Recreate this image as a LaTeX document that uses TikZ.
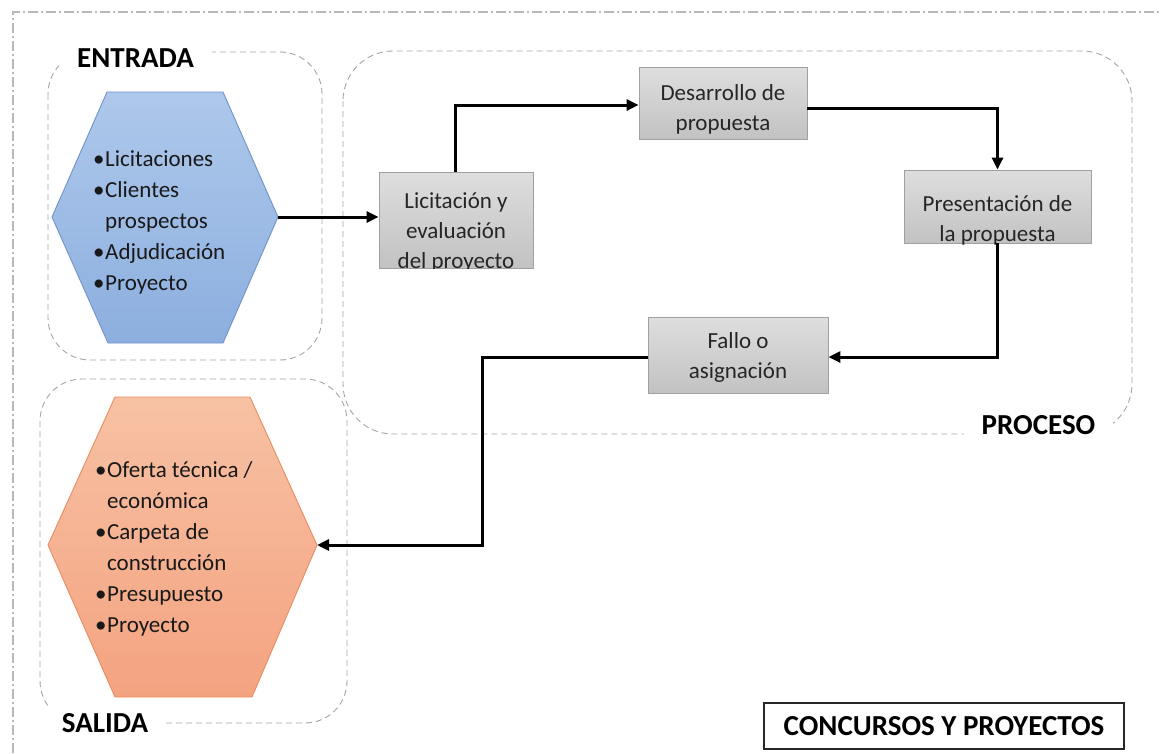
\documentclass[tikz,border=0pt]{standalone}
\usepackage{fontspec}
\setmainfont{Carlito}
\usetikzlibrary{arrows.meta,calc}
\definecolor{bluetop}{RGB}{174,200,235}
\definecolor{bluebot}{RGB}{140,175,223}
\definecolor{blueline}{RGB}{112,146,200}
\definecolor{orgtop}{RGB}{247,193,164}
\definecolor{orgbot}{RGB}{244,163,128}
\definecolor{orgline}{RGB}{233,140,96}
\definecolor{boxtop}{RGB}{222,222,222}
\definecolor{boxbot}{RGB}{194,194,194}
\definecolor{boxline}{RGB}{160,160,160}
\definecolor{grpline}{RGB}{165,165,165}
\definecolor{frameline}{RGB}{185,185,185}
\begin{document}
\begin{tikzpicture}[x=1pt,y=-1pt,
  group/.style={draw=grpline, line width=0.9pt, dash pattern=on 6pt off 4pt, rounded corners=42pt},
  grplabel/.style={fill=white, inner xsep=18pt, inner ysep=6pt, font=\fontsize{29}{31}\selectfont\bfseries},
  procbox/.style={draw=boxline, line width=0.9pt, top color=boxtop, bottom color=boxbot, inner sep=0pt},
  proctext/.style={align=center, inner sep=0pt, font=\fontsize{23}{30}\selectfont, text=black!85},
  listtext/.style={align=left, inner sep=0pt, anchor=west, font=\fontsize{23}{31}\selectfont, text=black!90},
  arr/.style={line width=3pt, -{Triangle[length=12pt,width=11pt]}},
  outerframe/.style={draw=frameline, line width=1.1pt, dash pattern=on 10pt off 3pt on 2pt off 3pt}
]
\useasboundingbox (0,0) rectangle (1161,753);
\fill[white] (0,0) rectangle (1161,753);
% outer frame
\coordinate (fbl) at (13,753);
\coordinate (ftl) at (13,12);
\coordinate (ftr) at (1161,12);
\draw[outerframe] (fbl) -- (ftl) -- (ftr);

% group boxes
\draw[group] (48,52) rectangle (322,360);
\draw[group, rounded corners=50pt] (343,51) rectangle (1132,434);
\draw[group] (40,379) rectangle (347,723);
\node[grplabel] (lblent) at (135.5,58) {ENTRADA};
\node[grplabel] (lblsal) at (105,723) {SALIDA};
\node[grplabel] (lblpro) at (1038.5,425) {PROCESO};

% entrada hexagon
\path[draw=blueline, line width=0.9pt, top color=bluetop, bottom color=bluebot]
  (107,92) -- (223,92) -- (278,217) -- (223,343) -- (108,343) -- (52,217) -- cycle;
\coordinate (entR) at (278,217);
\newcommand{\bul}{\makebox[12pt][l]{•}}
\node[listtext] (enttext) at (93,222) {\bul Licitaciones\\\bul Clientes\\\hphantom{\bul}prospectos\\\bul Adjudicación\\\bul Proyecto};

% salida hexagon
\path[draw=orgline, line width=0.9pt, top color=orgtop, bottom color=orgbot]
  (115,397) -- (250,397) -- (317,545) -- (252,697) -- (115,697) -- (48,545) -- cycle;
\coordinate (salR) at (317,545);
\node[listtext] (saltext) at (95,549) {\bul Oferta técnica /\\\hphantom{\bul}económica\\\bul Carpeta de\\\hphantom{\bul}construcción\\\bul Presupuesto\\\bul Proyecto};

% process boxes
\node[procbox, minimum width=154pt, minimum height=96pt] (lic) at (456,220) {};
\begin{scope}
  \clip (lic.south west) rectangle (lic.north east);
  \node[proctext] (lictext) at (456,232) {Licitación y\\evaluación\\del proyecto};
\end{scope}
\node[procbox, minimum width=168pt, minimum height=72pt] (des) at (723,103) {};
\node[proctext] (destext) at (723,109) {Desarrollo de\\propuesta};
\node[procbox, minimum width=187pt, minimum height=73pt] (pre) at (997.5,206.5) {};
\node[proctext] (pretext) at (997.5,220) {Presentación de\\la propuesta};
\node[procbox, minimum width=180pt, minimum height=76pt] (fal) at (738,355) {};
\node[proctext] (faltext) at (738,357) {Fallo o\\asignación};

% connectors
\coordinate (bend) at (482,545);
\draw[arr] (entR) -- (entR -| lic.west);
\draw[arr] ([xshift=-1pt]lic.north) |- ([yshift=-2pt]des.west);
\draw[arr] ([yshift=-5pt]des.east) -| (pre.north);
\draw[arr] (pre.south) |- ([yshift=-2pt]fal.east);
\draw[arr] ([yshift=-2pt]fal.west) -| (bend) -- (salR);

% title
\node[draw=black!85, line width=1.3pt, minimum width=360pt, minimum height=46pt, font=\fontsize{29}{31}\selectfont\bfseries] (title) at (944,726) {CONCURSOS Y PROYECTOS};
\end{tikzpicture}
\end{document}
